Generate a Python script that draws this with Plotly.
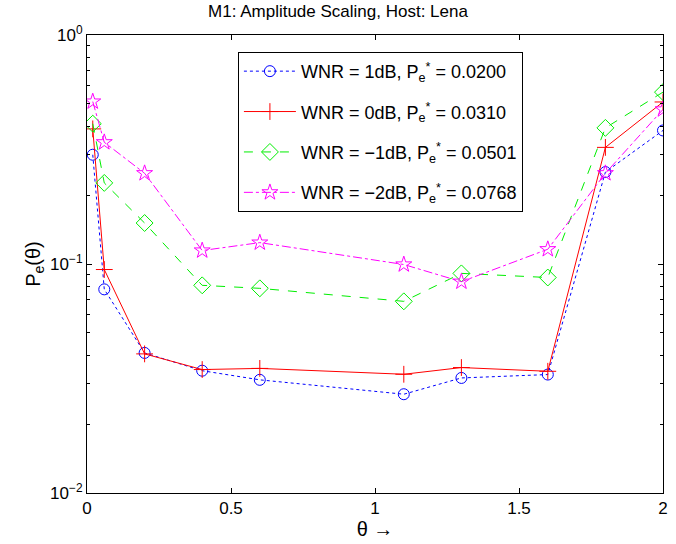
import plotly.graph_objects as go

theta = [0.02, 0.06, 0.2, 0.4, 0.6, 1.1, 1.3, 1.6, 1.8, 2.0]
pe_1db = [0.30, 0.0775, 0.0409, 0.0342, 0.0312, 0.0270, 0.0318, 0.0329, 0.252, 0.383]
pe_0db = [0.389, 0.0946, 0.0405, 0.0346, 0.0350, 0.0330, 0.0353, 0.0340, 0.323, 0.51]
pe_m1db = [0.41, 0.226, 0.151, 0.0807, 0.0783, 0.0687, 0.091, 0.0873, 0.393, 0.563]
pe_m2db = [0.512, 0.34, 0.249, 0.1145, 0.124, 0.0995, 0.0837, 0.116, 0.249, 0.473]

names = ["WNR = 1dB, P<sub>e</sub><sup>*</sup> = 0.0200",
         "WNR = 0dB, P<sub>e</sub><sup>*</sup> = 0.0310",
         "WNR = \u22121dB, P<sub>e</sub><sup>*</sup> = 0.0501",
         "WNR = \u22122dB, P<sub>e</sub><sup>*</sup> = 0.0768"]

fig = go.Figure()
styles = [
    (pe_1db, "#0000ff", "dot", "circle-open", 11),
    (pe_0db, "#ff0000", "solid", "cross-thin-open", 12),
    (pe_m1db, "#00ee00", "dash", "diamond-open", 13),
    (pe_m2db, "#ff00ff", "dashdot", "star-open", 12),
]
for i, (ys, c, dash, sym, sz) in enumerate(styles):
    fig.add_trace(go.Scatter(
        x=theta, y=ys, mode="lines+markers", name=names[i],
        legendgroup=str(i),
        line=dict(color=c, dash=dash, width=1),
        marker=dict(symbol=sym, size=sz, color=c, line=dict(color=c, width=1)),
    ))

font = "Liberation Sans, Arial, sans-serif"
fig.update_layout(
    width=676, height=544,
    margin=dict(l=87, r=8, t=35, b=48),
    paper_bgcolor="white", plot_bgcolor="white",
    font=dict(family=font, size=17, color="black"),
    title=dict(text="M1: Amplitude Scaling, Host: Lena", x=0.5, xanchor="center",
               y=0.99, yanchor="top", font=dict(size=17)),
    showlegend=True,
    legend=dict(x=0.262, y=0.963, xanchor="left", yanchor="top",
                bordercolor="black", borderwidth=1, bgcolor="white",
                itemwidth=52, tracegroupgap=14, font=dict(size=18)),
)
fig.update_xaxes(range=[0, 2], tickvals=[0, 0.5, 1, 1.5, 2],
                 ticktext=["0", "0.5", "1", "1.5", "2"],
                 ticks="inside", ticklen=5, tickcolor="black",
                 showline=True, linecolor="black", linewidth=1, mirror="allticks",
                 showgrid=False, zeroline=False,
                 title=dict(text="\u03b8 \u2192", standoff=4))
minor_vals = [m * 10 ** e for e in (-2, -1) for m in range(2, 10)]
fig.update_yaxes(type="log", range=[-2, 0], tickvals=[0.01, 0.1, 1],
                 ticktext=["10<sup>\u22122</sup>", "10<sup>\u22121</sup>", "10<sup>0</sup>"],
                 ticks="inside", ticklen=5, tickcolor="black",
                 minor=dict(tickvals=minor_vals, ticks="inside", ticklen=3, tickcolor="black"),
                 showline=True, linecolor="black", linewidth=1, mirror="allticks",
                 showgrid=False, zeroline=False,
                 title=dict(text="P<sub>e</sub>(\u03b8)", standoff=4))
fig.write_html("out.html")
